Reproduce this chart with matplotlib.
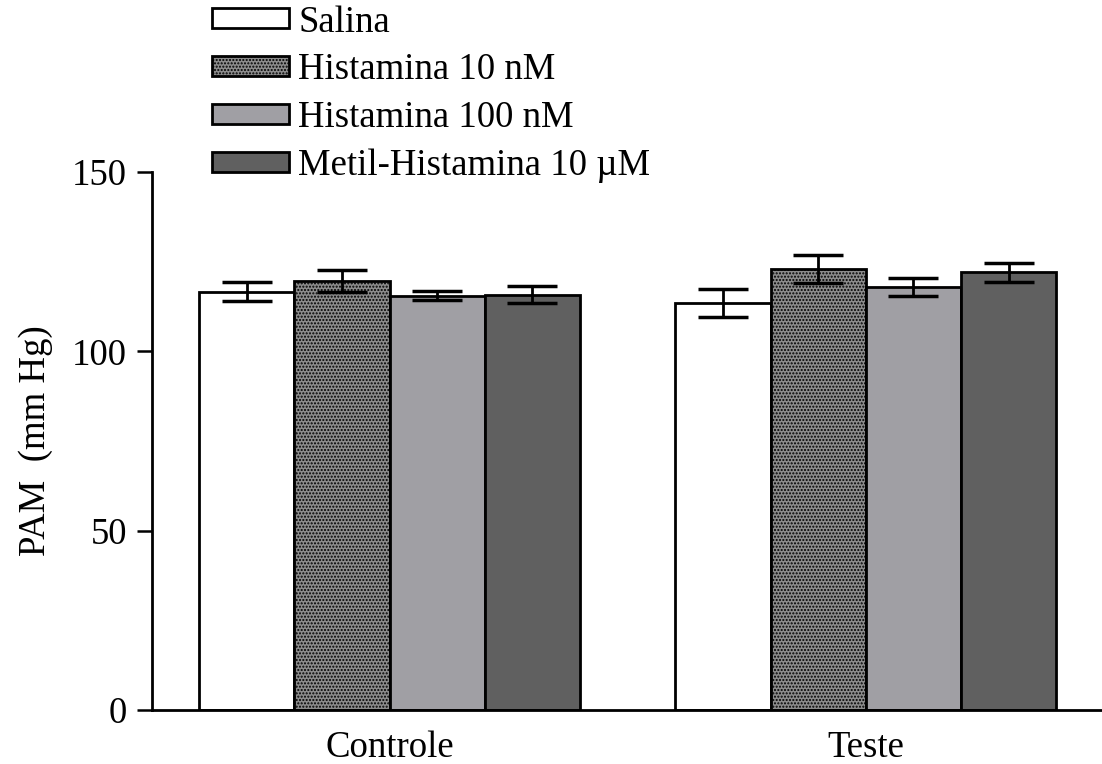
import numpy as np
import matplotlib
matplotlib.use("Agg")
import matplotlib.pyplot as plt

plt.rcParams['font.family'] = ['Liberation Serif', 'DejaVu Serif']
plt.rcParams['hatch.linewidth'] = 1.0

groups = ["Controle", "Teste"]
series = ["Salina", "Histamina 10 nM", "Histamina 100 nM", "Metil-Histamina 10 µM"]
means = {
    "Salina": [116.6, 113.6],
    "Histamina 10 nM": [119.6, 122.9],
    "Histamina 100 nM": [115.5, 118.0],
    "Metil-Histamina 10 µM": [115.8, 122.0],
}
sems = {
    "Salina": [2.6, 3.9],
    "Histamina 10 nM": [3.0, 3.9],
    "Histamina 100 nM": [1.3, 2.5],
    "Metil-Histamina 10 µM": [2.4, 2.6],
}
colors = ["white", "#8c8c8c", "#a09fa4", "#606060"]
hatches = [None, ".....", None, None]

fig = plt.figure(figsize=(11.02, 7.64), dpi=100)
ax = fig.add_axes([152 / 1102, 54 / 764, 1 - 152 / 1102, 538 / 764])

x = np.arange(len(groups)) * 5
for i, s in enumerate(series):
    pos = x + i
    ax.bar(pos, means[s], width=1.0, color=colors[i], edgecolor="black",
           linewidth=2, hatch=hatches[i], label=s, zorder=2)
    ax.errorbar(pos, means[s], yerr=sems[s], fmt="none", ecolor="black",
                elinewidth=2, capsize=18, capthick=2.5, zorder=3)

ax.set_xlim(-0.994, 8.98)
ax.set_ylim(0, 150)
ax.set_yticks([0, 50, 100, 150])
ax.set_xticks(x + 1.5)
ax.set_xticklabels(groups)
ax.tick_params(axis="x", length=0, pad=15, labelsize=26.5)
ax.tick_params(axis="y", length=11, width=1.8, pad=7, labelsize=26.5)
ax.spines["top"].set_visible(False)
ax.spines["right"].set_visible(False)
ax.spines["left"].set_linewidth(2)
ax.spines["bottom"].set_linewidth(2)
ax.set_ylabel("PAM  (mm Hg)", fontsize=26.5, labelpad=14)

leg = fig.legend(loc="upper left", bbox_to_anchor=(212 / 1102, 1 - 5 / 764),
                 frameon=False, fontsize=26.5, handlelength=2.1, handleheight=0.45,
                 handletextpad=0.25, labelspacing=0.36, borderpad=0,
                 borderaxespad=0)

fig.savefig("out.png", dpi=100)
